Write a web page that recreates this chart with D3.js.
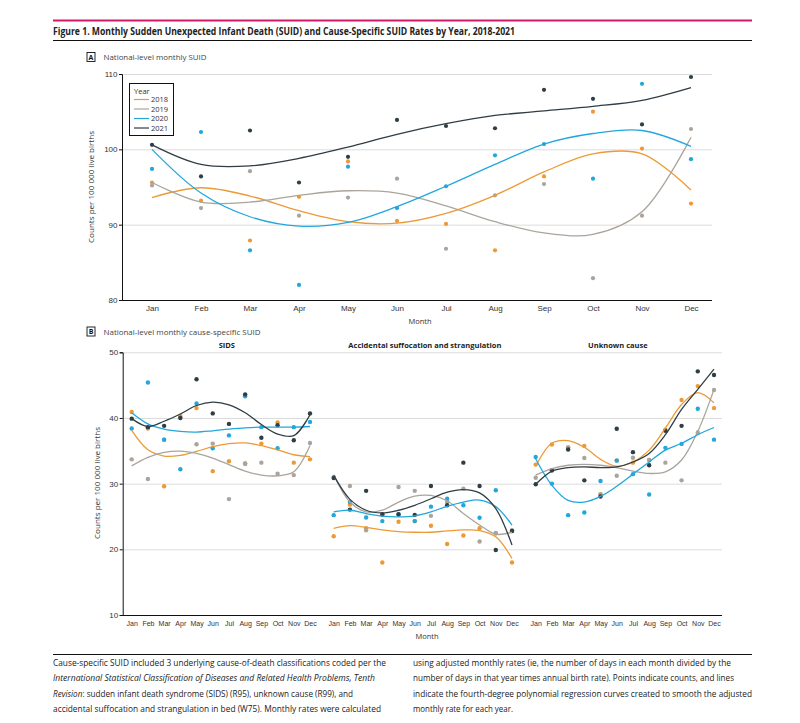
<!DOCTYPE html>
<html><head><meta charset="utf-8">
<script src="https://cdn.jsdelivr.net/npm/d3@7"></script>
<style>
html,body{margin:0;padding:0;background:#fff;}
svg{display:block;font-family:"Liberation Sans Narrow","Open Sans",sans-serif;}
</style></head>
<body>
<script>
// ---------- DATA ----------
const months = ["Jan","Feb","Mar","Apr","May","Jun","Jul","Aug","Sep","Oct","Nov","Dec"];
const years = ["2018","2019","2020","2021"];
const suidTicks = [80, 90, 100, 110];
const causeTicks = [10, 20, 30, 40, 50];
const causes = ["SIDS", "Accidental suffocation and strangulation", "Unknown cause"];

// Panel A: national monthly SUID (points = counts, fits = smoothed rates)
const suidPts2018 = [95.6, 93.2, 87.9, 93.7, 98.4, 90.5, 90.1, 86.6, 96.4, 105.0, 100.1, 92.8];
const suidPts2019 = [95.2, 92.2, 97.1, 91.2, 93.6, 96.1, 86.8, 93.9, 95.4, 82.9, 91.2, 102.7];
const suidPts2020 = [97.4, 102.3, 86.6, 82.0, 97.7, 92.2, 95.1, 99.2, 100.7, 96.1, 108.7, 98.7];
const suidPts2021 = [100.6, 96.4, 102.5, 95.6, 99.0, 103.9, 103.1, 102.8, 107.9, 106.7, 103.3, 109.6];
const suidFit2018 = [93.6, 94.9, 93.8, 91.85, 90.4, 90.2, 91.5, 93.9, 97.0, 99.4, 99.4, 94.6];
const suidFit2019 = [95.6, 93.0, 93.0, 93.9, 94.5, 94.2, 92.5, 90.4, 88.9, 88.7, 91.7, 101.6];
const suidFit2020 = [100.0, 94.2, 91.05, 89.8, 90.3, 92.4, 95.1, 98.0, 100.7, 102.1, 102.5, 100.4];
const suidFit2021 = [100.6, 98.0, 97.8, 98.8, 100.3, 102.0, 103.4, 104.5, 105.1, 105.7, 106.5, 108.2];

// Panel B: SIDS
const sidsPts2018 = [40.9, 38.4, 29.6, 40.3, 41.5, 31.9, 33.4, 33.1, 36.1, 39.3, 33.2, 33.7];
const sidsPts2019 = [33.7, 30.7, 36.7, 40.1, 36.0, 36.1, 27.65, 33.0, 33.2, 31.5, 31.3, 36.2];
const sidsPts2020 = [38.4, 45.4, 36.7, 32.2, 42.2, 35.4, 37.35, 43.3, 38.6, 35.4, 38.6, 39.4];
const sidsPts2021 = [39.9, 38.6, 38.8, 40.0, 45.9, 40.7, 39.1, 43.6, 37.0, 38.9, 36.6, 40.7];
const sidsFit2018 = [38.1, 35.15, 34.2, 34.3, 34.9, 35.65, 36.1, 36.2, 35.8, 35.15, 34.4, 34.1];
const sidsFit2019 = [32.7, 34.0, 34.75, 34.95, 34.6, 33.9, 32.9, 31.9, 31.3, 31.2, 31.8, 35.8];
const sidsFit2020 = [40.8, 39.1, 38.3, 37.95, 37.85, 38.05, 38.3, 38.5, 38.6, 38.6, 38.6, 38.7];
const sidsFit2021 = [39.9, 38.7, 39.5, 40.6, 41.9, 42.4, 42.0, 40.8, 39.0, 37.55, 37.3, 40.5];

// Panel B: Accidental suffocation and strangulation
const asPts2018 = [22.0, 26.8, 23.2, 18.0, 24.2, 24.3, 23.6, 20.8, 22.1, 23.2, 22.4, 18.0];
const asPts2019 = [31.0, 29.65, 22.9, 25.3, 29.5, 28.9, 25.1, 27.2, 29.25, 21.2, 22.5, 22.9];
const asPts2020 = [25.2, 27.2, 24.85, 24.3, 25.3, 24.3, 26.5, 27.7, 26.7, 24.8, 29.0, 22.8];
const asPts2021 = [30.85, 26.05, 28.9, 25.3, 25.35, 25.25, 29.65, 26.7, 33.2, 29.65, 19.9, 22.8];
const asFit2018 = [23.2, 23.6, 23.35, 22.95, 22.7, 22.6, 22.6, 22.8, 22.95, 22.85, 21.9, 18.6];
const asFit2019 = [31.35, 27.2, 25.7, 25.95, 27.2, 28.1, 28.2, 27.4, 25.45, 23.7, 22.3, 22.6];
const asFit2020 = [25.7, 25.95, 25.45, 25.05, 24.95, 25.1, 25.7, 26.55, 27.2, 27.5, 26.5, 23.7];
const asFit2021 = [31.25, 27.6, 25.95, 25.55, 25.95, 26.7, 27.7, 28.7, 29.1, 28.6, 26.2, 20.65];

// Panel B: Unknown cause
const ucPts2018 = [32.9, 35.95, 35.5, 35.75, 28.4, 33.55, 33.2, 33.6, 38.2, 42.75, 44.85, 41.5];
const ucPts2019 = [30.9, 32.0, 35.5, 33.9, 28.35, 31.2, 33.95, 33.6, 33.2, 30.5, 37.8, 44.25];
const ucPts2020 = [34.05, 30.0, 25.2, 25.6, 30.4, 33.5, 31.45, 28.35, 35.45, 36.05, 41.4, 36.7];
const ucPts2021 = [29.9, 32.05, 35.2, 30.5, 28.05, 38.35, 34.8, 32.8, 38.05, 38.8, 47.1, 46.55];
const ucFit2018 = [32.65, 36.15, 36.55, 35.55, 33.7, 32.65, 33.3, 35.1, 38.45, 42.05, 43.85, 42.3];
const ucFit2019 = [31.3, 32.3, 32.8, 32.95, 32.8, 32.45, 31.9, 31.55, 31.8, 33.6, 37.95, 44.35];
const ucFit2020 = [33.75, 29.75, 27.45, 27.2, 28.05, 29.6, 31.45, 33.3, 35.1, 36.15, 37.45, 38.55];
const ucFit2021 = [29.9, 31.9, 32.45, 32.55, 32.45, 32.55, 33.3, 34.6, 37.45, 41.3, 44.35, 47.45];

// ---------- STYLE ----------
const colors = {"2018":"#ec9a36","2019":"#aba49c","2020":"#22a7dc","2021":"#2f3d45"};
const ink = "#333";
const grid = "#dcdcdc";

const suidPts = [suidPts2018, suidPts2019, suidPts2020, suidPts2021];
const suidFit = [suidFit2018, suidFit2019, suidFit2020, suidFit2021];
const causePts = [[sidsPts2018,sidsPts2019,sidsPts2020,sidsPts2021],[asPts2018,asPts2019,asPts2020,asPts2021],[ucPts2018,ucPts2019,ucPts2020,ucPts2021]];
const causeFit = [[sidsFit2018,sidsFit2019,sidsFit2020,sidsFit2021],[asFit2018,asFit2019,asFit2020,asFit2021],[ucFit2018,ucFit2019,ucFit2020,ucFit2021]];

const W = 800, H = 723;
const svg = d3.select("body").append("svg").attr("width", W).attr("height", H);

// header
svg.append("line").attr("x1",53).attr("x2",752).attr("y1",20.5).attr("y2",20.5).attr("stroke","#d4186c").attr("stroke-width",2);
svg.append("text").attr("x",53).attr("y",35).attr("font-size",10).attr("font-weight",700).attr("fill","#222")
  .attr("textLength",462).attr("lengthAdjust","spacingAndGlyphs")
  .text("Figure 1. Monthly Sudden Unexpected Infant Death (SUID) and Cause-Specific SUID Rates by Year, 2018-2021");
svg.append("line").attr("x1",53).attr("x2",752).attr("y1",40.5).attr("y2",40.5).attr("stroke","#111").attr("stroke-width",1);

function panelLabel(letter, x, y, txt, len){
  svg.append("rect").attr("x",x+0.5).attr("y",y+0.5).attr("width",8).attr("height",9).attr("fill","none").attr("stroke","#111").attr("stroke-width",0.9);
  svg.append("text").attr("x",x+4.5).attr("y",y+7.7).attr("text-anchor","middle").attr("font-size",7).attr("font-weight",700).attr("fill","#111").text(letter);
  svg.append("text").attr("x",x+17).attr("y",y+8).attr("font-size",8).attr("fill","#444")
    .attr("textLength",len).attr("lengthAdjust","spacingAndGlyphs").text(txt);
}

const line = d3.line().curve(d3.curveCatmullRom.alpha(0.5));

// ---------- PANEL A ----------
panelLabel("A", 86.5, 52, "National-level monthly SUID", 103);
const xA = d3.scalePoint().domain(months).range([152, 691]);
const yA = d3.scaleLinear().domain([80,110]).range([300,74]);
const gA = svg.append("g");
gA.selectAll("line.grid").data(suidTicks.slice(1)).join("line")
  .attr("x1",122).attr("x2",712).attr("y1",d=>yA(d)+0.5).attr("y2",d=>yA(d)+0.5)
  .attr("stroke",grid).attr("stroke-width",1);
const yAxA = gA.append("g").attr("transform","translate(122,0)")
  .call(d3.axisLeft(yA).tickValues(suidTicks).tickSize(3).tickPadding(1.5));
yAxA.select(".domain").attr("stroke","#111");
yAxA.selectAll(".tick line").attr("stroke","#111");
yAxA.selectAll("text").attr("font-size",8).attr("fill",ink).attr("font-family",null);
gA.append("line").attr("x1",122).attr("x2",712).attr("y1",300.5).attr("y2",300.5).attr("stroke","#111");
const xAxA = gA.append("g").attr("transform","translate(0,300)")
  .call(d3.axisBottom(xA).tickSize(0).tickPadding(5));
xAxA.select(".domain").remove();
xAxA.selectAll("text").attr("font-size",8).attr("fill",ink).attr("font-family",null);
gA.append("text").attr("x",420).attr("y",324).attr("text-anchor","middle").attr("font-size",7.5).attr("fill",ink).text("Month");
gA.append("text").attr("transform","translate(94,187) rotate(-90)").attr("text-anchor","middle")
  .attr("font-size",7.5).attr("fill",ink).attr("textLength",112).attr("lengthAdjust","spacingAndGlyphs")
  .text("Counts per 100 000 live births");

years.forEach((yr,i)=>{
  gA.selectAll(null).data(suidPts[i]).join("circle")
    .attr("cx",(d,j)=>xA(months[j])).attr("cy",d=>yA(d)).attr("r",2.1).attr("fill",colors[yr]);
});
years.forEach((yr,i)=>{
  gA.append("path").attr("d", line(suidFit[i].map((v,j)=>[xA(months[j]), yA(v)])))
    .attr("fill","none").attr("stroke",colors[yr]).attr("stroke-width",1.3);
});
// legend
const lg = gA.append("g");
lg.append("rect").attr("x",129.5).attr("y",83.5).attr("width",44).attr("height",52).attr("fill","#fff").attr("stroke","#111").attr("stroke-width",1);
lg.append("text").attr("x",134).attr("y",93.5).attr("font-size",7.5).attr("fill",ink).text("Year");
years.forEach((yr,i)=>{
  const yy = 99.5 + i*9.5;
  lg.append("line").attr("x1",134).attr("x2",149).attr("y1",yy).attr("y2",yy).attr("stroke",colors[yr]).attr("stroke-width",1.2);
  lg.append("text").attr("x",151).attr("y",yy+2.7).attr("font-size",7.5).attr("fill",ink).text(yr);
});

// ---------- PANEL B ----------
panelLabel("B", 86.5, 326.5, "National-level monthly cause-specific SUID", 157);
const yB = d3.scaleLinear().domain([10,50]).range([615,352.3]);
const facetStep = 202;
const gB = svg.append("g");
gB.selectAll("line.grid").data(causeTicks.slice(1)).join("line")
  .attr("x1",122.7).attr("x2",722).attr("y1",d=>yB(d)+0.5).attr("y2",d=>yB(d)+0.5)
  .attr("stroke",grid).attr("stroke-width",1);
const yAxB = gB.append("g").attr("transform","translate(122.7,0)")
  .call(d3.axisLeft(yB).tickValues(causeTicks).tickSize(3).tickPadding(1.5));
yAxB.select(".domain").attr("stroke","#111");
yAxB.selectAll(".tick line").attr("stroke","#111");
yAxB.selectAll("text").attr("font-size",8).attr("fill",ink).attr("font-family",null);
gB.append("line").attr("x1",122.7).attr("x2",722).attr("y1",615.5).attr("y2",615.5).attr("stroke","#111");
gB.append("text").attr("x",427).attr("y",639).attr("text-anchor","middle").attr("font-size",7.5).attr("fill",ink).text("Month");
gB.append("text").attr("transform","translate(100,483) rotate(-90)").attr("text-anchor","middle")
  .attr("font-size",8).attr("fill",ink).attr("textLength",112).attr("lengthAdjust","spacingAndGlyphs")
  .text("Counts per 100 000 live births");

causes.forEach((c,k)=>{
  const x = d3.scalePoint().domain(months).range([131.7 + k*facetStep, 310 + k*facetStep]);
  const fg = gB.append("g");
  fg.append("text").attr("x",(x("Jan")+x("Dec"))/2 + [6,2,-7][k]).attr("y",347.5).attr("text-anchor","middle")
    .attr("font-size",7.5).attr("font-weight",700).attr("fill","#222").text(c);
  const ax = fg.append("g").attr("transform","translate(0,615)")
    .call(d3.axisBottom(x).tickSize(0).tickPadding(6));
  ax.select(".domain").remove();
  ax.selectAll("text").attr("font-size",7).attr("fill",ink).attr("font-family",null);
  years.forEach((yr,i)=>{
    fg.selectAll(null).data(causePts[k][i]).join("circle")
      .attr("cx",(d,j)=>x(months[j])).attr("cy",d=>yB(d)).attr("r",2.2).attr("fill",colors[yr]);
  });
  years.forEach((yr,i)=>{
    fg.append("path").attr("d", line(causeFit[k][i].map((v,j)=>[x(months[j]), yB(v)])))
      .attr("fill","none").attr("stroke",colors[yr]).attr("stroke-width",1.3);
  });
});

// ---------- CAPTION ----------
svg.append("line").attr("x1",53).attr("x2",752).attr("y1",654.5).attr("y2",654.5).attr("stroke","#111");
const capCol1 = [
  [["Cause-specific SUID included 3 underlying cause-of-death classifications coded per the", false]],
  [["International Statistical Classification of Diseases and Related Health Problems, Tenth", true]],
  [["Revision", true], [": sudden infant death syndrome (SIDS) (R95), unknown cause (R99), and", false]],
  [["accidental suffocation and strangulation in bed (W75). Monthly rates were calculated", false]]
];
const capCol2 = [
  [["using adjusted monthly rates (ie, the number of days in each month divided by the", false]],
  [["number of days in that year times annual birth rate). Points indicate counts, and lines", false]],
  [["indicate the fourth-degree polynomial regression curves created to smooth the adjusted", false]],
  [["monthly rate for each year.", false]]
];
const len1 = [333, 322, 300, 328];
const len2 = [318, 321, 339, 100];
function caption(col, x0, lens){
  col.forEach((segs,i)=>{
    const t = svg.append("text").attr("x",x0).attr("y",666+i*15.3).attr("font-size",8.5).attr("fill","#222")
      .attr("textLength",lens[i]).attr("lengthAdjust","spacingAndGlyphs");
    segs.forEach(s=>t.append("tspan").attr("font-style", s[1] ? "italic" : null).text(s[0]));
  });
}
caption(capCol1, 53, len1);
caption(capCol2, 413, len2);
</script>
</body></html>
